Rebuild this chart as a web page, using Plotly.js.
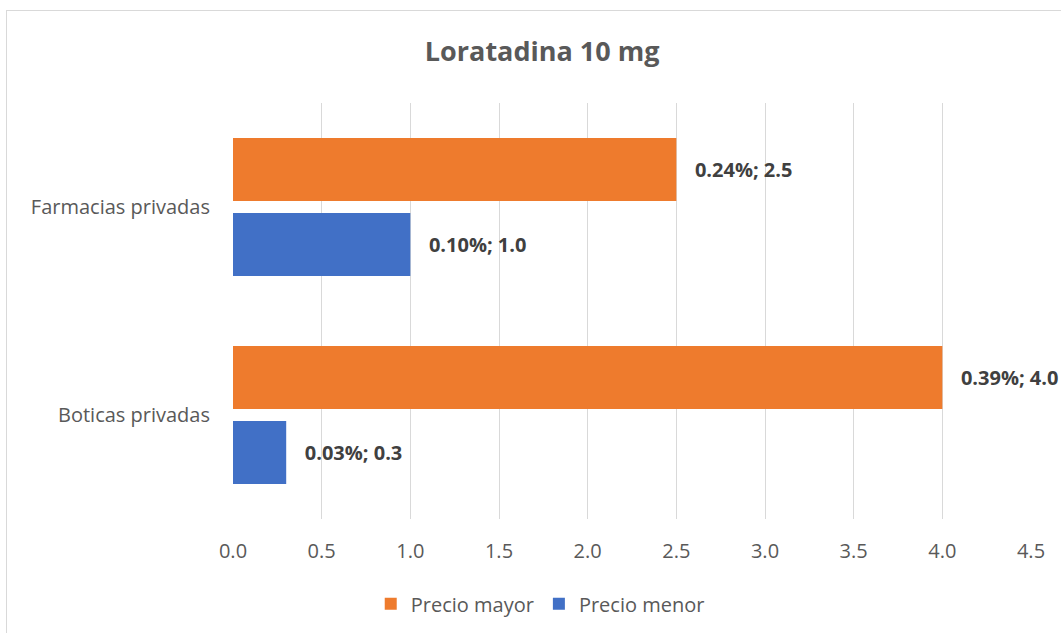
<!DOCTYPE html>
<html>
<head>
<meta charset="utf-8">
<script src="https://cdn.plot.ly/plotly-3.0.1.min.js"></script>
<style>
  html, body { margin: 0; padding: 0; background: #fff; overflow: hidden; }
  #wrap { position: relative; width: 1061px; height: 633px; }
  #chart { width: 1061px; height: 633px; }
  #frame { position: absolute; left: 6px; top: 10px; width: 1070px; height: 640px;
           border: 1px solid #d9d9d9; pointer-events: none; box-sizing: border-box; }
</style>
</head>
<body>
<div id="wrap">
  <div id="chart"></div>
  <div id="frame"></div>
</div>
<script>
const categories = ['Boticas privadas', 'Farmacias privadas'];
const precioMayor = [4.0, 2.5];
const precioMayorPct = ['0.39%', '0.24%'];
const precioMenor = [0.3, 1.0];
const precioMenorPct = ['0.03%', '0.10%'];
const xTicks = [0, 0.5, 1, 1.5, 2, 2.5, 3, 3.5, 4, 4.5];
const xTickLabels = ['0.0', '0.5', '1.0', '1.5', '2.0', '2.5', '3.0', '3.5', '4.0', '4.5'];

const FONT = '"Open Sans", sans-serif';
const labelFont = { family: FONT, size: 20, color: '#404040', weight: 'bold' };

const traces = [
  {
    type: 'bar', orientation: 'h', name: 'Precio menor',
    y: categories, x: precioMenor, customdata: precioMenorPct,
    marker: { color: '#4170C6', line: { width: 0 } },
    texttemplate: '\u00a0\u00a0\u00a0<b>%{customdata}; %{x:.1f}</b>',
    textposition: 'outside', textfont: labelFont, cliponaxis: false,
    legendrank: 2, hoverinfo: 'skip'
  },
  {
    type: 'bar', orientation: 'h', name: 'Precio mayor',
    y: categories, x: precioMayor, customdata: precioMayorPct,
    marker: { color: '#EE7B2D', line: { width: 0 } },
    texttemplate: '\u00a0\u00a0\u00a0<b>%{customdata}; %{x:.1f}</b>',
    textposition: 'outside', textfont: labelFont, cliponaxis: false,
    legendrank: 1, hoverinfo: 'skip'
  }
];

const layout = {
  width: 1061, height: 633,
  margin: { l: 233, r: 30, t: 103, b: 114, autoexpand: false },
  paper_bgcolor: '#ffffff', plot_bgcolor: '#ffffff',
  font: { family: FONT, color: '#595959', size: 20 },
  title: {
    text: '<b>Loratadina 10 mg</b>',
    font: { family: FONT, size: 27, color: '#595959' },
    x: 0.511, xanchor: 'center', y: 0.918, yanchor: 'middle', yref: 'container'
  },
  barmode: 'group', bargap: 0.279, bargroupgap: 0.16,
  xaxis: {
    range: [0, 4.5], tickvals: xTicks, ticktext: xTickLabels,
    showgrid: true, gridcolor: '#d9d9d9', gridwidth: 1,
    zeroline: false, showline: false, ticks: '',
    ticklabelstandoff: 18, automargin: false,
    tickfont: { family: FONT, size: 20, color: '#595959' }
  },
  yaxis: {
    type: 'category', categoryorder: 'array', categoryarray: categories,
    range: [-0.5, 1.5], showgrid: false, zeroline: false, showline: false, ticks: '',
    ticklabelstandoff: 22, automargin: false,
    tickfont: { family: FONT, size: 20, color: '#595959' }
  },
  legend: {
    orientation: 'h', x: 0.385, xanchor: 'center', y: -0.204, yanchor: 'middle',
    font: { family: FONT, size: 20, color: '#595959' }, itemwidth: 30
  },
  showlegend: true
};

Plotly.newPlot('chart', traces, layout, { displayModeBar: false, staticPlot: true });
</script>
</body>
</html>
